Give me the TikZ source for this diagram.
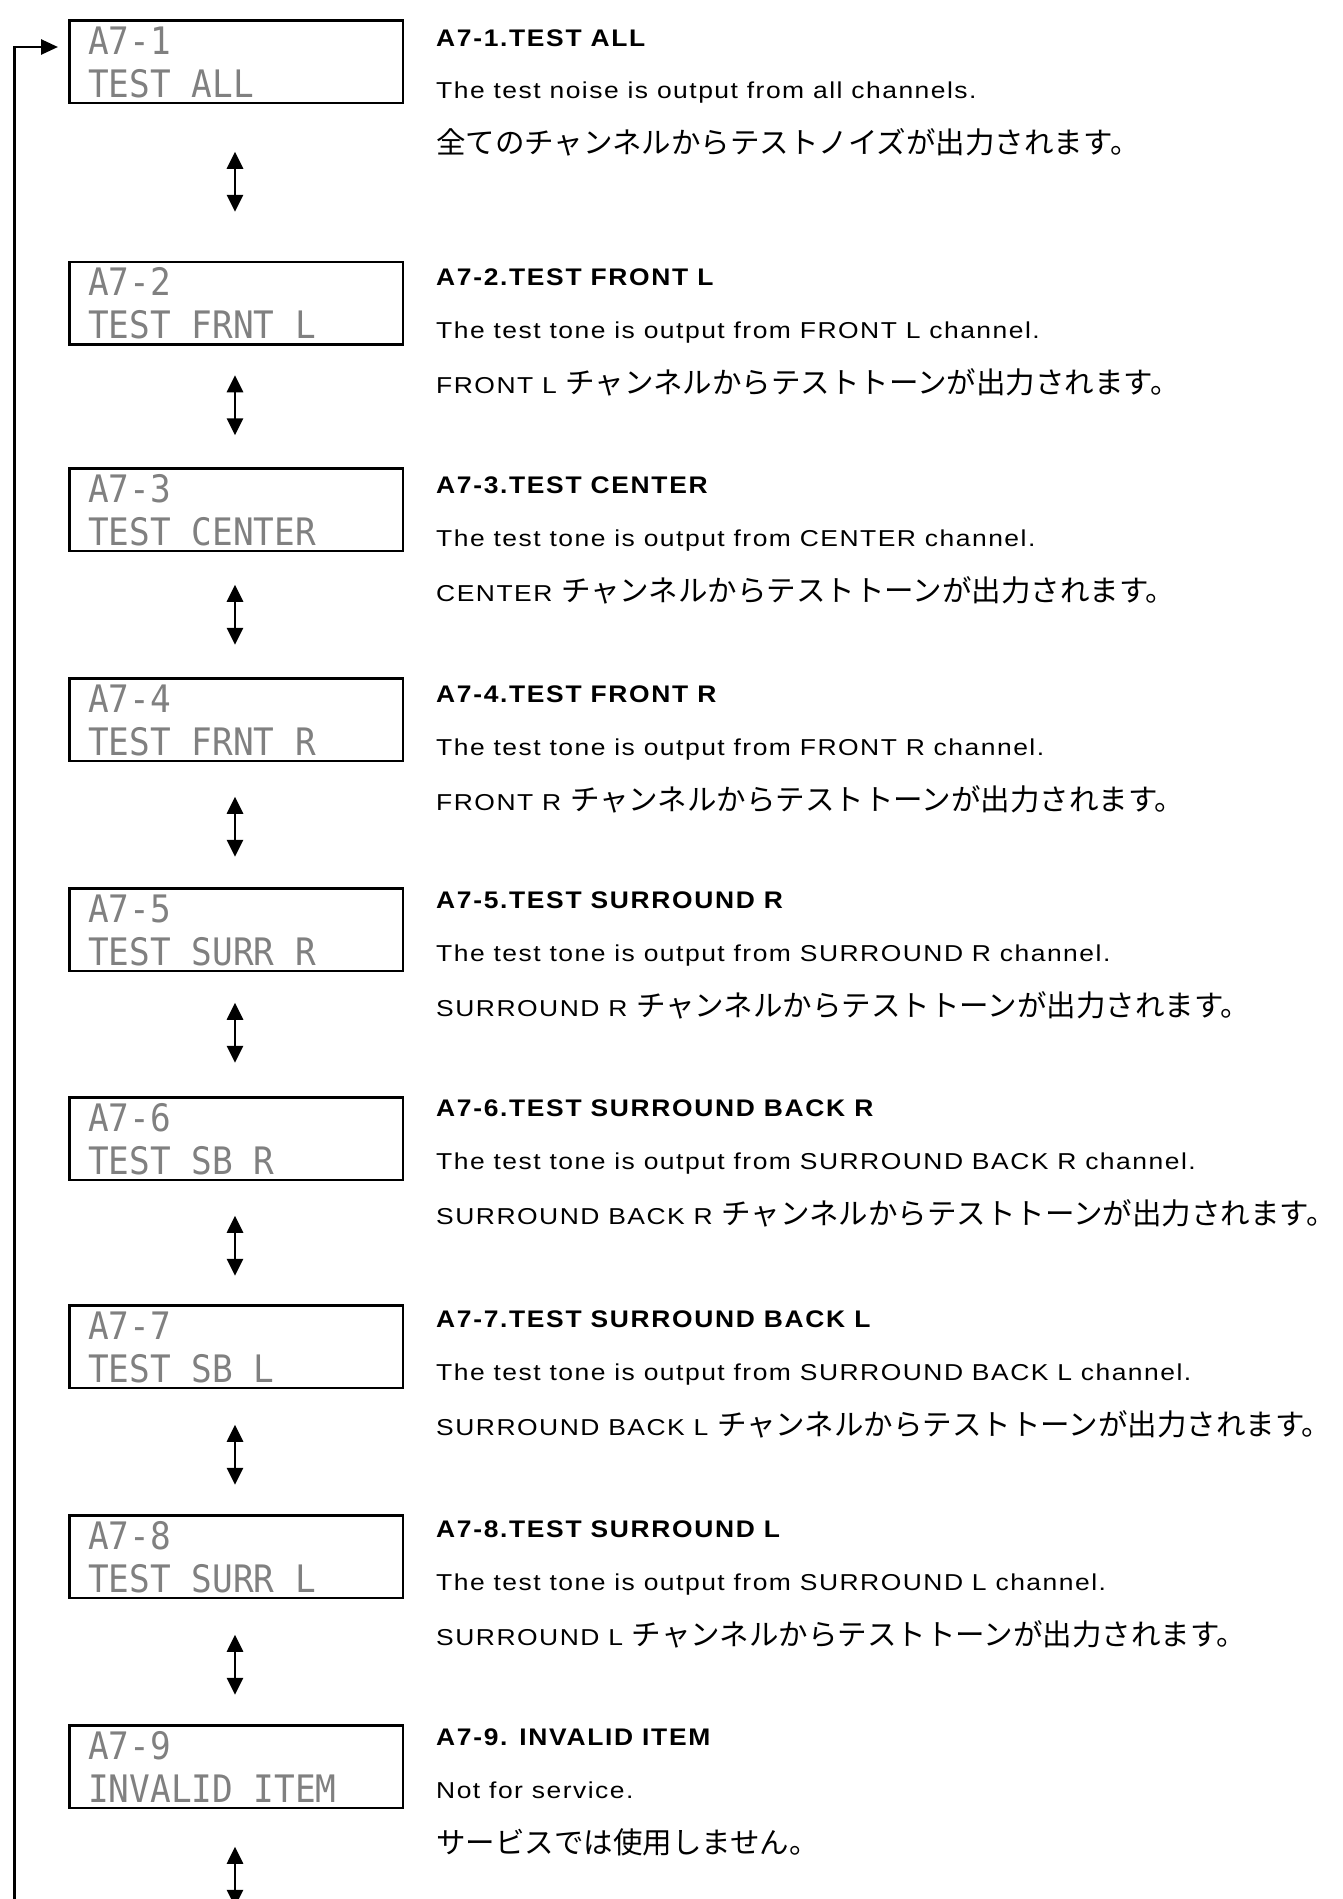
\documentclass[tikz,border=0pt]{standalone}
\usepackage{fontspec}
\setmainfont{Liberation Sans}
\newfontfamily\enfont{Liberation Sans}[LetterSpace=6.5, FakeStretch=1.15]
\newfontfamily\ttlfont{Liberation Sans}[LetterSpace=7, FakeStretch=1.1]
\newfontfamily\jpfont{Noto Sans CJK JP}
\newfontfamily\lcdfont{DejaVu Sans Mono}
\usetikzlibrary{arrows.meta,calc}
\newcommand\jp[1]{{\jpfont\fontsize{29.5pt}{31pt}\selectfont #1}}
\newcommand\lcdtxt[1]{\scalebox{1}[1.1]{#1}}
\tikzset{
  lcdbox/.style={draw, line width=2.5pt, minimum width=333.5pt, minimum height=82.5pt, inner sep=0pt, outer sep=0pt},
  lcd/.style={anchor=base west, inner sep=0pt, text=black!50, font=\lcdfont\fontsize{34.4pt}{36pt}\selectfont},
  ttl/.style={anchor=base west, inner sep=0pt, font=\ttlfont\bfseries\fontsize{24pt}{28pt}\selectfont},
  desc/.style={anchor=base west, inner sep=0pt, font=\enfont\fontsize{23pt}{26pt}\selectfont},
  dbl/.style={line width=2.7pt, {Triangle[length=17pt,width=16pt]}-{Triangle[length=17pt,width=16pt]}},
  loopline/.style={line width=2.7pt, -{Triangle[length=17pt,width=15pt]}}
}
\begin{document}
\begin{tikzpicture}[x=1pt,y=-1pt]
\useasboundingbox (0,0) rectangle (1342,1899);
\clip (0,0) rectangle (1342,1899);
% LCD boxes
\foreach \i/\top/\la/\lb in {1/19/A7-1/TEST ALL, 2/260.5/A7-2/TEST FRNT L, 3/467/A7-3/TEST CENTER, 4/677/A7-4/TEST FRNT R, 5/887/A7-5/TEST SURR R, 6/1096/A7-6/TEST SB R, 7/1304/A7-7/TEST SB L, 8/1514/A7-8/TEST SURR L, 9/1724/A7-9/INVALID ITEM}{
  \node[lcdbox] (b\i) at (236,\top+42.5) {};
  \node[lcd] (b\i l1) at (88,\top+35) {\lcdtxt{\la}};
  \node[lcd] (b\i l2) at (88,\top+78) {\lcdtxt{\lb}};
}
% titles and descriptions
\node[ttl] (t1) at (436,46) {A7-1.TEST ALL};
\node[desc] (e1) at (436,98.5) {The test noise is output from all channels.};
\node[desc] (j1) at (436,153.5) {\jp{全てのチャンネルからテストノイズが出力されます。}};

\node[ttl] (t2) at (436,285.5) {A7-2.TEST FRONT L};
\node[desc] (e2) at (436,338) {The test tone is output from FRONT L channel.};
\node[desc] (j2) at (436,393) {FRONT L \jp{チャンネルからテストトーンが出力されます。}};

\node[ttl] (t3) at (436,493.5) {A7-3.TEST CENTER};
\node[desc] (e3) at (436,546) {The test tone is output from CENTER channel.};
\node[desc] (j3) at (436,601) {CENTER \jp{チャンネルからテストトーンが出力されます。}};

\node[ttl] (t4) at (436,702.5) {A7-4.TEST FRONT R};
\node[desc] (e4) at (436,755) {The test tone is output from FRONT R channel.};
\node[desc] (j4) at (436,810) {FRONT R \jp{チャンネルからテストトーンが出力されます。}};

\node[ttl] (t5) at (436,908.5) {A7-5.TEST SURROUND R};
\node[desc] (e5) at (436,961) {The test tone is output from SURROUND R channel.};
\node[desc] (j5) at (436,1016) {SURROUND R \jp{チャンネルからテストトーンが出力されます。}};

\node[ttl] (t6) at (436,1116.5) {A7-6.TEST SURROUND BACK R};
\node[desc] (e6) at (436,1169) {The test tone is output from SURROUND BACK R channel.};
\node[desc] (j6) at (436,1224) {SURROUND BACK R \jp{チャンネルからテストトーンが出力されます。}};

\node[ttl] (t7) at (436,1327.5) {A7-7.TEST SURROUND BACK L};
\node[desc] (e7) at (436,1380) {The test tone is output from SURROUND BACK L channel.};
\node[desc] (j7) at (436,1435) {SURROUND BACK L \jp{チャンネルからテストトーンが出力されます。}};

\node[ttl] (t8) at (436,1537.5) {A7-8.TEST SURROUND L};
\node[desc] (e8) at (436,1590) {The test tone is output from SURROUND L channel.};
\node[desc] (j8) at (436,1645) {SURROUND L \jp{チャンネルからテストトーンが出力されます。}};

\node[ttl] (t9) at (436,1745.5) {A7-9. INVALID ITEM};
\node[desc] (e9) at (436,1798) {Not for service.};
\node[desc] (j9) at (436,1853) {\jp{サービスでは使用しません。}};

% double arrows between boxes
\foreach \i/\g in {1/49, 2/31, 3/34, 4/36, 5/32, 6/36, 7/37, 8/37, 9/39}{
  \draw[dbl] ($(b\i.south)+(-1,\g)$) -- ++(0,60);
}
% loop back to the first box
\coordinate (loopfoot) at (14.7,1910);
\coordinate (loophead) at (58,47);
\draw[loopline] (loopfoot) |- (loophead);
\end{tikzpicture}
\end{document}
